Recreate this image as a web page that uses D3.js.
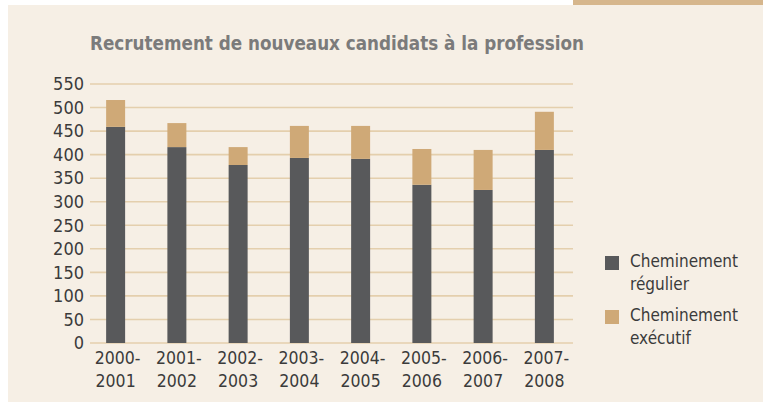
<!DOCTYPE html>
<html>
<head>
<meta charset="utf-8">
<script src="https://cdn.jsdelivr.net/npm/d3@7"></script>
<style>
  body { margin: 0; background: #fff; }
  svg { display: block; }
  text { font-family: "Liberation Sans Narrow", "DejaVu Sans Condensed", sans-serif; }
</style>
</head>
<body>
<svg id="chart" width="763" height="402"></svg>
<script>
// data
var years = ["2000-2001", "2001-2002", "2002-2003", "2003-2004", "2004-2005", "2005-2006", "2006-2007", "2007-2008"];
var regulier = [459, 416, 378, 393, 391, 336, 325, 410];
var executif = [57, 51, 38, 68, 70, 76, 85, 81];
var yTicks = [0, 50, 100, 150, 200, 250, 300, 350, 400, 450, 500, 550];
var seriesNames = ["Cheminement régulier", "Cheminement exécutif"];
var colors = ["#58595b", "#cfa977"];

var svg = d3.select("#chart");

// panel + tab at the top right
svg.append("rect").attr("x", 8).attr("y", 5).attr("width", 755).attr("height", 397).attr("fill", "#f6efe5");
svg.append("rect").attr("x", 573).attr("y", 0).attr("width", 190).attr("height", 5).attr("fill", "#d6b68c");

svg.append("text")
  .attr("x", 90).attr("y", 50)
  .attr("fill", "#7b7b7b")
  .attr("textLength", 494).attr("lengthAdjust", "spacingAndGlyphs")
  .style("font-size", "20px").style("font-weight", "bold")
  .text("Recrutement de nouveaux candidats à la profession");

var x = d3.scaleBand().domain(years).range([85, 575]).paddingInner(0.69).paddingOuter(0.345);
var y = d3.scaleLinear().domain([0, 550]).range([343, 84]);

// grid
svg.append("g").selectAll("line").data(yTicks).join("line")
  .attr("x1", 90).attr("x2", 573)
  .attr("y1", function(d) { return y(d); })
  .attr("y2", function(d) { return y(d); })
  .attr("stroke", "#e4cfad").attr("stroke-width", 1.6);

// y axis labels
var yAxis = d3.axisLeft(y).tickValues(yTicks).tickSize(0).tickPadding(0);
var gy = svg.append("g").attr("transform", "translate(84,0)").call(yAxis);
gy.select(".domain").remove();
gy.selectAll("text").attr("fill", "#3b3b3b").style("font-size", "18px")
  .attr("font-family", null);

// stacked bars
var rows = years.map(function(yr, i) { return { year: yr, reg: regulier[i], exe: executif[i] }; });
var stack = d3.stack().keys(["reg", "exe"])(rows);

svg.append("g").selectAll("g").data(stack).join("g")
  .attr("fill", function(d, i) { return colors[i]; })
  .selectAll("rect").data(function(d) { return d; }).join("rect")
  .attr("x", function(d) { return x(d.data.year); })
  .attr("width", x.bandwidth())
  .attr("y", function(d) { return y(d[1]); })
  .attr("height", function(d) { return y(d[0]) - y(d[1]); });

// x labels on two lines
var xl = svg.append("g").selectAll("text").data(years).join("text")
  .attr("x", function(d) { return x(d) + x.bandwidth() / 2; })
  .attr("y", 364)
  .attr("text-anchor", "middle")
  .attr("fill", "#3b3b3b")
  .style("font-size", "17.5px");
xl.append("tspan").attr("x", function(d) { return x(d) + x.bandwidth() / 2 + 2; })
  .text(function(d) { return d.split("-")[0] + "-"; });
xl.append("tspan").attr("x", function(d) { return x(d) + x.bandwidth() / 2; }).attr("dy", 23)
  .text(function(d) { return d.split("-")[1]; });

// legend
var lg = svg.append("g").selectAll("g").data(seriesNames).join("g")
  .attr("transform", function(d, i) { return "translate(605," + (256 + i * 54) + ")"; });
lg.append("rect").attr("width", 14).attr("height", 14)
  .attr("fill", function(d, i) { return colors[i]; });
var lt = lg.append("text").attr("fill", "#3b3b3b").style("font-size", "17px");
lt.append("tspan").attr("x", 25).attr("y", 11).text(function(d) { return d.split(" ")[0]; });
lt.append("tspan").attr("x", 25).attr("y", 34).text(function(d) { return d.split(" ")[1]; });
</script>
</body>
</html>
